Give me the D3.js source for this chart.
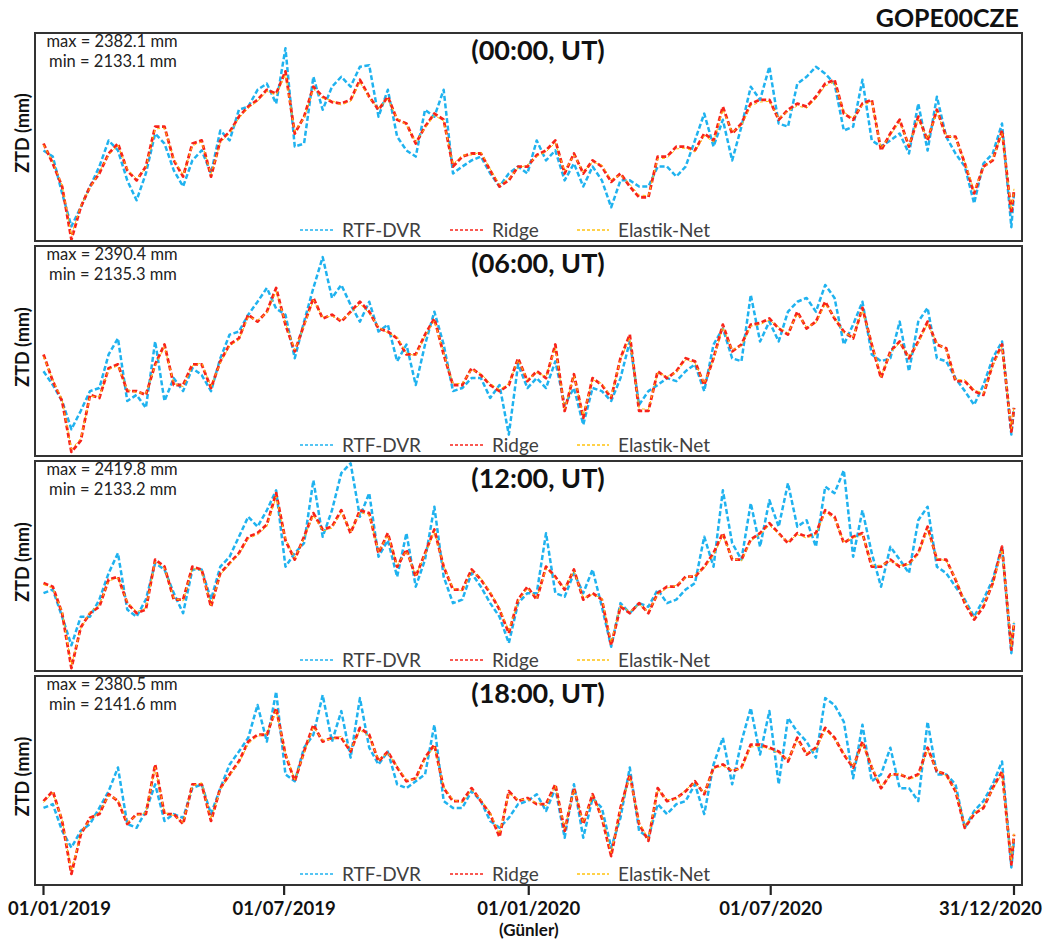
<!DOCTYPE html>
<html>
<head>
<meta charset="utf-8">
<script src="https://cdn.jsdelivr.net/npm/d3@7/dist/d3.min.js"></script>
<style>
    body { margin: 0; background: #fff; }
    svg text { font-family: Lato, "Open Sans", sans-serif; }
    .frame { fill: none; stroke: #333; stroke-width: 2; }
    .legend text { fill: #404040; font-size: 19px; }
    .title { font-weight: bold; font-size: 27px; fill: #111; }
    .extrema { font-size: 16.5px; fill: #222; }
    .ylabel { font-weight: bold; font-size: 18px; fill: #111; }
    .tick-label { font-weight: bold; font-size: 18.5px; fill: #111; }
</style>
</head>
<body>
<svg id="chart" width="1047" height="940"></svg>
<script>
// ---- data (ZTD in mm, one value per week + last day) ----
const stationName = "GOPE00CZE";
const panelTitles = ["(00:00, UT)", "(06:00, UT)", "(12:00, UT)", "(18:00, UT)"];
const maxTexts = ["max = 2382.1 mm", "max = 2390.4 mm", "max = 2419.8 mm", "max = 2380.5 mm"];
const minTexts = ["min = 2133.1 mm", "min = 2135.3 mm", "min = 2133.2 mm", "min = 2141.6 mm"];
const yDomains = [[2131, 2402], [2130, 2405], [2129, 2423], [2127, 2401]];

const tickDates = ["2019-01-01", "2019-07-01", "2020-01-01", "2020-07-01", "2020-12-31"];
const tickLabels = ["01/01/2019", "01/07/2019", "01/01/2020", "01/07/2020", "31/12/2020"];
const xTitle = "(Günler)";

const seriesNames = ["RTF-DVR", "Ridge", "Elastik-Net"];
const seriesColors = ["#1fb2ef", "#f8231a", "#ffc20e"];

// sample days counted from 01/01/2019
const sampleDays = d3.range(0, 729, 7).concat([730]);

const rtf00 = [2249,2241,2193,2150,2175,2202,2228,2262,2249,2210,2184,2219,2271,2258,2223,2202,2236,2249,2219,2275,2262,2302,2306,2328,2336,2310,2382.1,2254,2258,2345,2302,2332,2345,2332,2358,2360,2293,2328,2267,2249,2241,2302,2293,2328,2219,2228,2236,2241,2219,2202,2219,2228,
    2219,2262,2236,2249,2210,2232,2202,2228,2210,2175,2210,2210,2202,2202,2228,2228,2215,2228,2262,2297,2254,2289,2236,2280,2332,2315,2358,2284,2280,2336,2345,2358,2349,2336,2275,2280,2341,2262,2254,2262,2271,2245,2310,2249,2319,2267,2245,2228,2180,2232,2245,2284,2149,2193];
const ridge00 = [2258,2232,2202,2133.1,2175,2202,2219,2245,2258,2223,2210,2228,2280,2280,2236,2215,2258,2262,2215,2262,2273,2293,2306,2315,2328,2323,2352,2271,2293,2332,2319,2312,2310,2315,2341,2319,2302,2319,2289,2284,2258,2280,2297,2289,2228,2241,2245,2245,2223,2202,2210,2228,
    2228,2243,2249,2262,2219,2245,2219,2236,2228,2208,2219,2202,2188,2188,2241,2241,2254,2254,2249,2271,2262,2306,2271,2284,2310,2315,2315,2289,2302,2310,2306,2319,2336,2341,2297,2289,2310,2315,2249,2271,2289,2254,2293,2262,2302,2267,2267,2232,2193,2228,2236,2275,2167,2197];
const elastic00 = [2256,2234,2204,2138,2177,2200,2221,2243,2256,2225,2212,2226,2277,2278,2238,2217,2255,2260,2218,2259,2271,2291,2304,2313,2326,2321,2348,2274,2291,2329,2317,2314,2308,2313,2338,2317,2304,2316,2291,2282,2260,2278,2295,2287,2231,2243,2243,2247,2225,2205,2212,2226,
    2230,2241,2247,2259,2222,2243,2221,2234,2230,2211,2217,2205,2191,2190,2238,2239,2251,2252,2247,2268,2260,2302,2273,2281,2307,2312,2313,2291,2300,2307,2304,2316,2333,2338,2299,2291,2308,2312,2252,2269,2286,2256,2290,2264,2299,2269,2265,2234,2197,2226,2238,2271,2172,2199];

const rtf06 = [2241,2223,2202,2165,2189,2215,2219,2263,2284,2202,2210,2193,2280,2202,2232,2215,2245,2236,2215,2258,2289,2293,2315,2332,2350,2323,2315,2258,2306,2350,2390.4,2337,2354,2328,2306,2332,2293,2302,2254,2276,2223,2276,2319,2276,2215,2219,2232,2232,2206,2223,2158,2250,
    2219,2232,2219,2254,2197,2219,2171,2219,2215,2202,2232,2280,2197,2215,2223,2232,2228,2241,2250,2215,2276,2297,2258,2254,2341,2280,2306,2280,2319,2332,2337,2319,2354,2337,2276,2302,2332,2263,2254,2258,2306,2241,2306,2324,2258,2254,2232,2215,2197,2223,2258,2280,2158,2193];
const ridge06 = [2263,2228,2202,2135.3,2150,2210,2206,2245,2250,2215,2215,2210,2250,2276,2223,2223,2250,2250,2219,2254,2276,2284,2315,2306,2319,2350,2302,2267,2302,2337,2310,2315,2306,2319,2332,2319,2297,2293,2284,2263,2263,2289,2310,2263,2223,2223,2245,2236,2223,2215,2223,2258,
    2228,2241,2232,2276,2189,2237,2180,2232,2223,2206,2258,2289,2189,2189,2241,2232,2241,2258,2254,2223,2258,2302,2267,2276,2302,2304,2310,2297,2289,2319,2297,2306,2332,2310,2293,2284,2324,2276,2232,2267,2280,2258,2280,2306,2276,2271,2228,2228,2215,2210,2250,2276,2162,2193];
const elastic06 = [2260,2230,2204,2139,2153,2208,2208,2243,2248,2217,2213,2212,2248,2273,2225,2221,2248,2252,2221,2252,2274,2282,2312,2308,2317,2346,2304,2269,2300,2334,2312,2313,2308,2317,2329,2317,2299,2291,2286,2265,2261,2287,2307,2265,2225,2225,2243,2238,2225,2217,2225,2256,
    2230,2239,2234,2272,2192,2235,2183,2230,2225,2208,2256,2285,2192,2191,2239,2234,2239,2256,2252,2225,2256,2299,2269,2274,2300,2302,2308,2299,2291,2316,2299,2304,2329,2312,2291,2286,2321,2278,2234,2265,2278,2260,2278,2303,2278,2269,2230,2230,2217,2212,2248,2273,2166,2195];

const rtf12 = [2238,2243,2205,2165,2205,2205,2229,2266,2294,2215,2205,2229,2280,2271,2238,2210,2271,2271,2229,2275,2289,2317,2345,2331,2354,2382,2275,2294,2308,2396,2317,2354,2406,2419.8,2345,2378,2289,2312,2261,2322,2247,2285,2359,2261,2224,2229,2266,2247,2224,2205,2168,2224,
    2238,2238,2322,2238,2233,2266,2238,2271,2219,2163,2224,2210,2224,2219,2243,2224,2229,2243,2252,2317,2275,2382,2308,2285,2364,2303,2368,2331,2392,2331,2340,2303,2387,2378,2410,2289,2354,2294,2247,2303,2285,2266,2340,2359,2275,2266,2247,2229,2205,2229,2257,2303,2154,2196];
const ridge12 = [2252,2247,2210,2133.2,2190,2210,2219,2257,2261,2224,2210,2215,2285,2275,2229,2229,2275,2271,2219,2266,2280,2294,2317,2322,2334,2378,2312,2285,2317,2350,2327,2331,2354,2322,2354,2350,2294,2322,2275,2299,2261,2294,2327,2275,2243,2243,2271,2257,2238,2215,2182,2229,
    2247,2229,2275,2261,2243,2271,2229,2238,2229,2165,2219,2210,2224,2210,2238,2247,2247,2261,2261,2275,2294,2322,2285,2285,2313,2322,2336,2322,2308,2322,2317,2322,2354,2345,2308,2317,2322,2275,2275,2285,2275,2280,2294,2331,2285,2285,2257,2224,2201,2219,2252,2303,2159,2196];
const elastic12 = [2250,2245,2212,2137,2188,2212,2221,2255,2259,2226,2212,2217,2282,2273,2231,2227,2273,2269,2221,2264,2278,2292,2314,2320,2331,2373,2314,2287,2315,2347,2325,2329,2351,2324,2351,2347,2296,2319,2277,2297,2263,2292,2324,2277,2245,2241,2269,2259,2240,2217,2186,2227,
    2245,2231,2272,2259,2245,2269,2231,2236,2231,2169,2221,2212,2222,2212,2236,2245,2249,2259,2263,2273,2291,2319,2287,2283,2311,2320,2333,2320,2310,2320,2315,2320,2351,2342,2310,2315,2320,2277,2277,2283,2277,2278,2292,2327,2287,2283,2259,2226,2204,2221,2250,2299,2163,2198];

const rtf18 = [2228,2233,2198,2176,2198,2207,2228,2250,2281,2207,2202,2224,2259,2211,2220,2215,2254,2259,2220,2254,2285,2302,2320,2363,2315,2380.5,2272,2263,2307,2324,2376,2315,2355,2294,2372,2307,2285,2302,2259,2254,2263,2272,2337,2237,2228,2228,2250,2237,2211,2202,2215,2233,
    2237,2246,2224,2254,2189,2259,2189,2241,2228,2176,2215,2281,2198,2189,2233,2220,2233,2237,2259,2220,2285,2320,2259,2315,2359,2298,2355,2259,2346,2328,2315,2294,2372,2363,2341,2267,2337,2263,2272,2307,2254,2254,2237,2341,2272,2272,2259,2202,2224,2237,2259,2289,2150,2185];
const ridge18 = [2237,2250,2211,2141.6,2193,2215,2220,2246,2237,2207,2220,2220,2285,2220,2220,2207,2259,2259,2211,2254,2272,2289,2315,2324,2324,2359,2298,2263,2302,2337,2315,2320,2320,2302,2333,2324,2289,2302,2281,2263,2267,2294,2311,2254,2237,2237,2254,2237,2220,2190,2250,2237,
    2241,2233,2233,2259,2198,2254,2207,2246,2215,2165,2228,2272,2207,2185,2254,2237,2241,2250,2263,2246,2281,2285,2276,2281,2311,2311,2307,2302,2289,2320,2298,2307,2333,2320,2298,2281,2315,2281,2254,2272,2272,2267,2272,2307,2276,2272,2250,2202,2220,2228,2254,2276,2154,2193];
const elastic18 = [2235,2248,2213,2145,2195,2213,2222,2244,2239,2209,2218,2222,2281,2222,2218,2209,2257,2261,2213,2252,2270,2287,2312,2322,2326,2355,2300,2265,2300,2334,2317,2318,2322,2304,2330,2322,2291,2300,2283,2265,2265,2292,2308,2256,2239,2235,2252,2239,2222,2194,2247,2239,
    2239,2235,2231,2257,2201,2252,2209,2244,2217,2169,2226,2269,2209,2188,2252,2239,2239,2252,2261,2248,2279,2283,2278,2279,2308,2309,2305,2300,2291,2317,2300,2305,2330,2318,2300,2283,2312,2283,2256,2270,2274,2265,2270,2304,2278,2270,2252,2205,2222,2230,2252,2273,2158,2195];

const panelSeries = [
    [rtf00, ridge00, elastic00],
    [rtf06, ridge06, elastic06],
    [rtf12, ridge12, elastic12],
    [rtf18, ridge18, elastic18]
];

// ---- layout ----
const panels = [
    {top: 33, bottom: 241},
    {top: 246, bottom: 456},
    {top: 461, bottom: 671},
    {top: 676, bottom: 885}
];
const frameLeft = 35, frameRight = 1022;
const lineStyles = [
    {width: 2.5, dash: "5,2.5"},
    {width: 2.8, dash: "5,2.5"},
    {width: 1.0, dash: "3,3"}
];

const parseDate = d3.timeParse("%Y-%m-%d");
const startDate = parseDate("2019-01-01");
const dates = sampleDays.map(d => d3.timeDay.offset(startDate, d));

const x = d3.scaleTime()
    .domain([startDate, parseDate("2020-12-31")])
    .range([43.5, 1014]);

const svg = d3.select("#chart");

svg.append("text")
    .attr("class", "title")
    .attr("x", 1019).attr("y", 27)
    .attr("text-anchor", "end")
    .style("font-size", "25px")
    .text(stationName);

panels.forEach((p, i) => {
    const y = d3.scaleLinear().domain(yDomains[i]).range([p.bottom, p.top]);
    const g = svg.append("g").attr("class", "panel");

    g.append("rect")
        .attr("x", frameLeft).attr("y", p.top)
        .attr("width", frameRight - frameLeft).attr("height", p.bottom - p.top)
        .attr("fill", "#fff");

    const clipId = "clip" + i;
    svg.append("clipPath").attr("id", clipId)
        .append("rect")
        .attr("x", frameLeft).attr("y", p.top)
        .attr("width", frameRight - frameLeft).attr("height", p.bottom - p.top);

    const line = d3.line()
        .x((d, j) => x(dates[j]))
        .y(d => y(d));

    panelSeries[i].forEach((values, s) => {
        g.append("path")
            .datum(values)
            .attr("clip-path", "url(#" + clipId + ")")
            .attr("fill", "none")
            .attr("stroke", seriesColors[s])
            .attr("stroke-width", lineStyles[s].width)
            .attr("stroke-dasharray", lineStyles[s].dash)
            .attr("stroke-linejoin", "round")
            .attr("d", line);
    });

    g.append("rect")
        .attr("class", "frame")
        .attr("x", frameLeft).attr("y", p.top)
        .attr("width", frameRight - frameLeft).attr("height", p.bottom - p.top);

    // max / min block
    g.append("text").attr("class", "extrema")
        .attr("x", 112).attr("y", p.top + 14)
        .attr("text-anchor", "middle")
        .text(maxTexts[i]);
    g.append("text").attr("class", "extrema")
        .attr("x", 113).attr("y", p.top + 34)
        .attr("text-anchor", "middle")
        .text(minTexts[i]);

    g.append("text").attr("class", "title")
        .attr("x", 538).attr("y", p.top + 27)
        .attr("text-anchor", "middle")
        .text(panelTitles[i]);

    g.append("text").attr("class", "ylabel")
        .attr("transform", "translate(29," + ((p.top + p.bottom) / 2 - 4) + ") rotate(-90)")
        .attr("text-anchor", "middle")
        .text("ZTD (mm)");

    // legend
    const ly = p.bottom - 11;
    const legendPos = [{x0: 300, x1: 334, tx: 342}, {x0: 450, x1: 483, tx: 492}, {x0: 577, x1: 609, tx: 618}];
    const lg = g.append("g").attr("class", "legend");
    legendPos.forEach((lp, s) => {
        lg.append("line")
            .attr("x1", lp.x0).attr("x2", lp.x1)
            .attr("y1", ly).attr("y2", ly)
            .attr("stroke", seriesColors[s])
            .attr("stroke-width", 1.4)
            .attr("stroke-dasharray", "3,2");
        lg.append("text")
            .attr("x", lp.tx).attr("y", ly)
            .attr("dy", "0.35em")
            .text(seriesNames[s]);
    });
});

// x axis ticks and labels
const axisY = panels[3].bottom;
tickDates.forEach((td, i) => {
    const tx = x(parseDate(td));
    svg.append("line")
        .attr("x1", tx).attr("x2", tx)
        .attr("y1", axisY + 1).attr("y2", axisY + 10)
        .attr("stroke", "#222").attr("stroke-width", 2.2);
    const t = svg.append("text")
        .attr("class", "tick-label")
        .attr("x", tx).attr("y", 915)
        .attr("text-anchor", "middle")
        .text(tickLabels[i]);
    // keep the end labels inside the picture
    const w = t.node().getComputedTextLength();
    if (tx - w / 2 < 8) t.attr("x", 8 + w / 2);
    if (tx + w / 2 > 1042) t.attr("x", 1042 - w / 2);
});

svg.append("text")
    .attr("class", "tick-label")
    .attr("x", x(parseDate("2020-01-01"))).attr("y", 936)
    .attr("text-anchor", "middle")
    .style("font-size", "17px")
    .text(xTitle);
</script>
</body>
</html>
